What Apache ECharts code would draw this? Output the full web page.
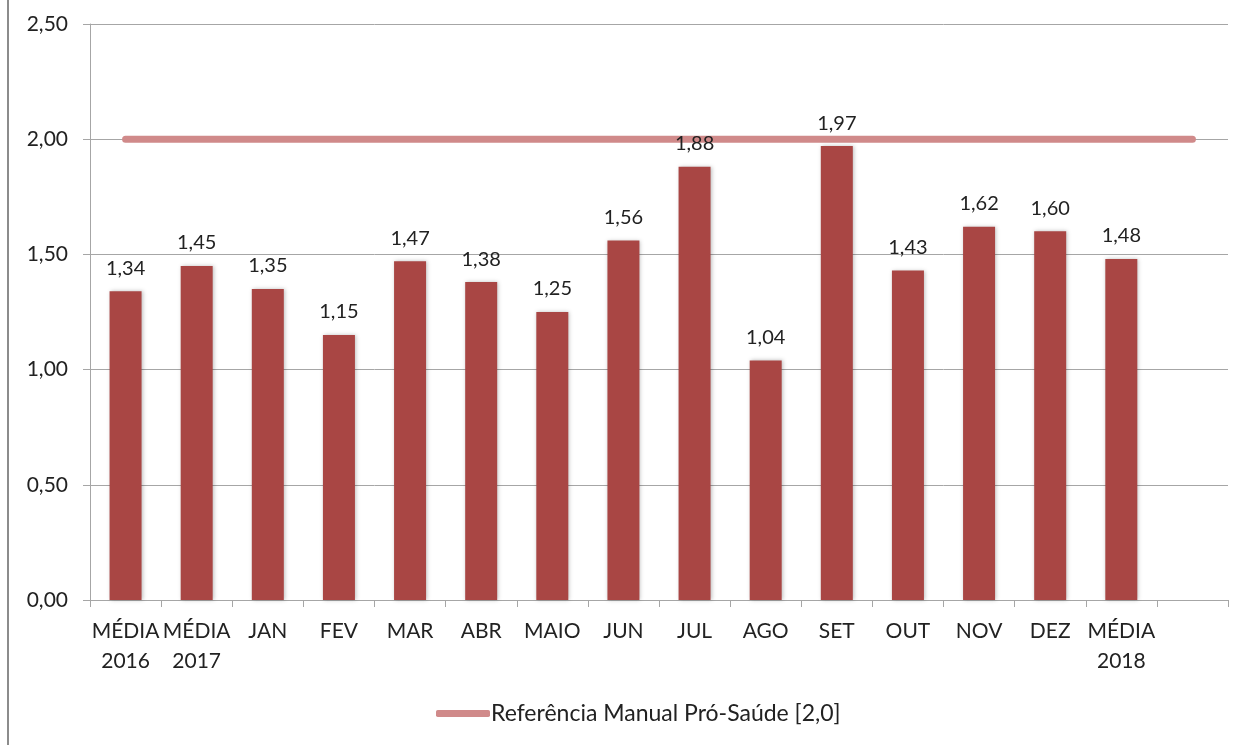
<!DOCTYPE html>
<html>
<head>
<meta charset="utf-8">
<script src="https://cdn.jsdelivr.net/npm/echarts@6/dist/echarts.min.js"></script>
<style>
  html, body { margin: 0; padding: 0; background: #fff; }
  #chart { width: 1245px; height: 745px; }
</style>
</head>
<body>
<div id="chart"></div>
<script>
// categorias (a última fica vazia, como no original)
var categories = ['MÉDIA\n2016', 'MÉDIA\n2017', 'JAN', 'FEV', 'MAR', 'ABR', 'MAIO', 'JUN', 'JUL', 'AGO', 'SET', 'OUT', 'NOV', 'DEZ', 'MÉDIA\n2018', ''];
var values = [1.34, 1.45, 1.35, 1.15, 1.47, 1.38, 1.25, 1.56, 1.88, 1.04, 1.97, 1.43, 1.62, 1.60, 1.48, null];
// linha de referência
var refName = 'Referência Manual Pró-Saúde [2,0]';
var refValues = [2, 2, 2, 2, 2, 2, 2, 2, 2, 2, 2, 2, 2, 2, 2, 2];

var font = 'Lato, "Open Sans", sans-serif';
var gray = '#a6a6a6';

function fmt(v) {
  return Number(v).toFixed(2).replace('.', ',');
}

var myChart = echarts.init(document.getElementById('chart'));
var option = {
  animation: false,
  textStyle: { fontFamily: font },
  graphic: [{
    type: 'line',
    shape: { x1: 8, y1: 0, x2: 8, y2: 745 },
    style: { stroke: '#8c8c8c', lineWidth: 2 }
  }],
  grid: { left: 90, right: 17, top: 24, bottom: 145 },
  legend: {
    bottom: 15,
    left: 431,
    itemWidth: 54,
    itemHeight: 7,
    itemGap: 2,
    data: [{ name: refName, icon: 'roundRect' }],
    textStyle: { fontSize: 23, color: '#222', fontFamily: font, padding: [0, 0, 0, -4] }
  },
  xAxis: {
    type: 'category',
    data: categories,
    boundaryGap: true,
    axisLine: { lineStyle: { color: gray, width: 1 } },
    axisTick: { show: true, length: 7, lineStyle: { color: gray } },
    axisLabel: {
      interval: 0,
      color: '#222',
      fontSize: 21,
      lineHeight: 30,
      margin: 16,
      fontFamily: font
    }
  },
  yAxis: {
    type: 'value',
    min: 0,
    max: 2.5,
    interval: 0.5,
    axisLine: { show: true, lineStyle: { color: gray } },
    axisTick: { show: true, length: 7, lineStyle: { color: gray } },
    splitLine: { lineStyle: { color: gray } },
    axisLabel: {
      color: '#222',
      fontSize: 21,
      margin: 22,
      fontFamily: font,
      formatter: fmt
    }
  },
  series: [
    {
      name: 'valores',
      type: 'bar',
      data: values,
      barWidth: 32,
      itemStyle: {
        color: '#a94644',
        shadowColor: 'rgba(0,0,0,0.25)',
        shadowBlur: 4,
        shadowOffsetX: 1,
        shadowOffsetY: 0
      },
      label: {
        show: true,
        position: 'top',
        distance: 13,
        color: '#222',
        fontSize: 20,
        fontFamily: font,
        formatter: function (p) { return fmt(p.value); }
      }
    },
    {
      name: refName,
      type: 'line',
      data: refValues,
      symbol: 'none',
      z: 1,
      lineStyle: { color: '#d08a8a', width: 7, cap: 'round' },
      itemStyle: { color: '#d08a8a' }
    }
  ]
};
myChart.setOption(option);
</script>
</body>
</html>
